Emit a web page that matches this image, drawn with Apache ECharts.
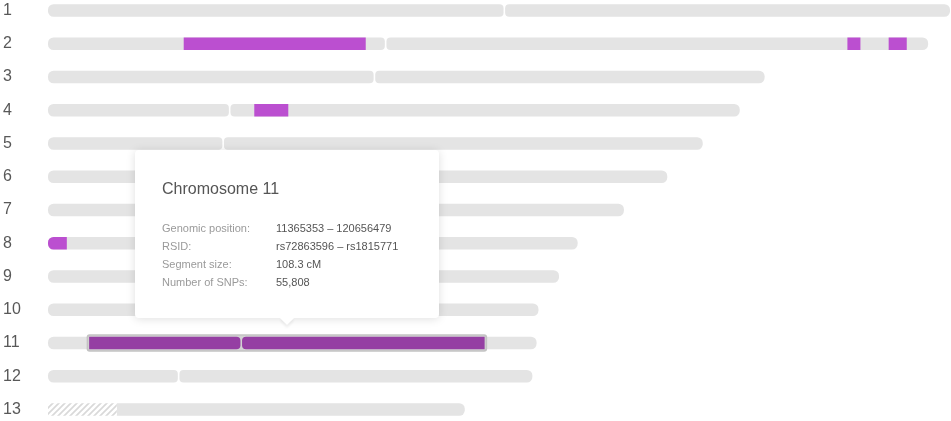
<!DOCTYPE html>
<html>
<head>
<meta charset="utf-8">
<script src="https://cdn.jsdelivr.net/npm/echarts@6/dist/echarts.min.js"></script>
<style>
html, body { margin: 0; padding: 0; background: #ffffff; }
#chart { width: 951px; height: 421px; }
</style>
</head>
<body>
<div id="chart"></div>
<script>
// ---------------- data ----------------
const chromosomes = ['1', '2', '3', '4', '5', '6', '7', '8', '9', '10', '11', '12', '13'];
const chromLengthsMb = [249.25, 243.20, 198.02, 191.15, 180.92, 171.12, 159.14, 146.36, 141.21, 135.53, 135.01, 133.85, 115.17];
const centromeresMb = [126.1, 93.3, 90.2, 50.2, 48.4, 60.0, 59.8, 45.4, 49.0, 40.2, 53.4, 36.1, 19.0];

// unmapped (hatched) regions
const unmappedChrom = ['13'];
const unmappedStartMb = [0];
const unmappedEndMb = [19.0];

// shared segments
const segChrom = ['2', '2', '2', '4', '8', '11'];
const segStartMb = [37.5, 220.9, 232.3, 57.0, 0, 11.365353];
const segEndMb = [87.8, 224.5, 237.3, 66.4, 5.2, 120.656479];
const segRsid = ['', '', '', '', '', 'rs72863596 \u2013 rs1815771'];
const segSizeCM = [null, null, null, null, null, 108.3];
const segSnps = [null, null, null, null, null, 55808];
const selectedSegment = 5;

// ---------------- styles ----------------
const BAR_H = 12.5;
const R_END = 5.5;
const R_CEN = 4;
const GAP = 1.6;
const GREY = '#e4e4e4';
const PURPLE = '#bb4fd0';
const PURPLE_SEL = '#953fa3';
const OUTLINE = '#c3c3c3';
const FONT = "'Liberation Sans', Arial, Helvetica, sans-serif";

// hatch pattern
const hatch = document.createElement('canvas');
hatch.width = 6; hatch.height = 6;
(function () {
  const c = hatch.getContext('2d');
  c.fillStyle = '#ffffff';
  c.fillRect(0, 0, 6, 6);
  c.strokeStyle = '#d9d9d9';
  c.lineWidth = 1.7;
  c.beginPath();
  c.moveTo(-1, 7); c.lineTo(7, -1);
  c.moveTo(-4, 4); c.lineTo(4, -4);
  c.moveTo(2, 10); c.lineTo(10, 2);
  c.stroke();
})();

function rowOf(name) { return chromosomes.indexOf(name); }

function isAcrocentric(row) {
  for (let i = 0; i < unmappedChrom.length; i++) {
    if (rowOf(unmappedChrom[i]) === row && unmappedStartMb[i] <= 0 && unmappedEndMb[i] >= centromeresMb[row] - 1e-6) return true;
  }
  return false;
}

function arms(api, row) {
  const len = chromLengthsMb[row], cen = centromeresMb[row];
  const x0 = api.coord([0, row])[0];
  const x1 = api.coord([len, row])[0];
  const xc = api.coord([cen, row])[0];
  if (isAcrocentric(row)) {
    return [{ a: cen, b: len, l: xc, r: x1, rl: 0, rr: R_END }];
  }
  return [
    { a: 0, b: cen, l: x0, r: xc - GAP / 2, rl: R_END, rr: R_CEN },
    { a: cen, b: len, l: xc + GAP / 2, r: x1, rl: R_CEN, rr: R_END }
  ];
}

function renderChrom(params, api) {
  const row = api.value(0);
  const yc = api.coord([0, row])[1];
  const y = yc - BAR_H / 2;
  const children = arms(api, row).map(function (a) {
    return {
      type: 'rect',
      shape: { x: a.l, y: y, width: a.r - a.l, height: BAR_H, r: [a.rl, a.rr, a.rr, a.rl] },
      style: { fill: GREY }
    };
  });
  return { type: 'group', children: children };
}

function renderUnmapped(params, api) {
  const row = api.value(0);
  const p0 = api.coord([api.value(1), row]);
  const p1 = api.coord([api.value(2), row]);
  return {
    type: 'rect',
    shape: { x: p0[0], y: p0[1] - BAR_H / 2, width: p1[0] - p0[0], height: BAR_H },
    style: { fill: { image: hatch, repeat: 'repeat' } }
  };
}

function renderSegment(params, api) {
  const row = api.value(0);
  const s = api.value(1), e = api.value(2);
  const sel = params.dataIndex === selectedSegment;
  const yc = api.coord([0, row])[1];
  const y = yc - BAR_H / 2;
  const children = [];
  const pieces = [];
  arms(api, row).forEach(function (a) {
    const s2 = Math.max(s, a.a), e2 = Math.min(e, a.b);
    if (s2 >= e2) return;
    const atL = s2 <= a.a + 1e-9, atR = e2 >= a.b - 1e-9;
    const l = atL ? a.l : api.coord([s2, row])[0];
    const r = atR ? a.r : api.coord([e2, row])[0];
    const rl = atL ? a.rl : 0, rr = atR ? a.rr : 0;
    pieces.push({ l: l, r: r, rl: rl, rr: rr });
  });
  if (!pieces.length) return null;
  if (sel) {
    const L = pieces[0].l, Rr = pieces[pieces.length - 1].r;
    children.push({
      type: 'rect',
      shape: { x: L - 2.5, y: y - 2.5, width: Rr - L + 5, height: BAR_H + 5, r: 3 },
      style: { fill: OUTLINE }
    });
    children.push({
      type: 'rect',
      shape: { x: L - 1, y: y - 1, width: Rr - L + 2, height: BAR_H + 2, r: 2 },
      style: { fill: '#d2d2d2' }
    });
  }
  pieces.forEach(function (p) {
    children.push({
      type: 'rect',
      shape: { x: p.l, y: y, width: p.r - p.l, height: BAR_H, r: [p.rl, p.rr, p.rr, p.rl] },
      style: { fill: sel ? PURPLE_SEL : PURPLE }
    });
  });
  return { type: 'group', children: children };
}

function fmtInt(v) { return String(v).replace(/\B(?=(\d{3})+(?!\d))/g, ','); }

function tooltipHtml(params) {
  const i = params.dataIndex;
  const row = rowOf(segChrom[i]);
  const rows = [];
  rows.push(['Genomic position:', Math.round(segStartMb[i] * 1e6) + ' \u2013 ' + Math.round(segEndMb[i] * 1e6)]);
  if (segRsid[i]) rows.push(['RSID:', segRsid[i]]);
  if (segSizeCM[i] != null) rows.push(['Segment size:', segSizeCM[i].toFixed(1) + ' cM']);
  if (segSnps[i] != null) rows.push(['Number of SNPs:', fmtInt(segSnps[i])]);
  let tr = '';
  rows.forEach(function (r) {
    tr += '<tr><td style="padding:0;width:114px;color:#9a9a9a">' + r[0] + '</td><td style="padding:0;color:#555">' + r[1] + '</td></tr>';
  });
  return '<div style="position:relative;width:304px;height:168px;box-sizing:border-box;padding:29px 27px 0 27px;font-family:' + FONT.replace(/'/g, '&quot;') + ';white-space:nowrap;text-align:left">' +
    '<div style="font-size:16px;line-height:20px;color:#555">Chromosome ' + chromosomes[row] + '</div>' +
    '<table style="margin-top:20px;border-collapse:collapse;border-spacing:0;font-size:11px;line-height:18px">' + tr + '</table>' +
    '<div style="position:absolute;left:50%;bottom:-5px;margin-left:-5px;width:10px;height:10px;background:#fff;transform:rotate(45deg);box-shadow:2px 2px 3px rgba(0,0,0,0.07)"></div>' +
    '</div>';
}

// ---------------- chart ----------------
const chromData = chromosomes.map(function (c, i) { return [i, 0, chromLengthsMb[i]]; });
const unmappedData = unmappedChrom.map(function (c, i) { return [rowOf(c), unmappedStartMb[i], unmappedEndMb[i]]; });
const segData = segChrom.map(function (c, i) { return [rowOf(c), segStartMb[i], segEndMb[i]]; });

const chart = echarts.init(document.getElementById('chart'), null, { renderer: 'canvas' });
chart.setOption({
  animation: false,
  grid: { left: 48, right: 1, top: 10.5, bottom: 11.5, containLabel: false },
  xAxis: {
    type: 'value', min: 0, max: Math.max.apply(null, chromLengthsMb), show: false,
    splitLine: { show: false }
  },
  yAxis: {
    type: 'category', data: chromosomes, inverse: true, boundaryGap: false,
    axisLine: { show: false }, axisTick: { show: false }, splitLine: { show: false },
    axisLabel: { align: 'left', margin: 45, fontSize: 16, color: '#585858', fontFamily: FONT, interval: 0, padding: [3, 0, 0, 0] }
  },
  tooltip: {
    trigger: 'item',
    alwaysShowContent: true,
    showDelay: 0,
    hideDelay: 0,
    transitionDuration: 0,
    padding: 0,
    borderWidth: 0,
    borderColor: '#ffffff',
    backgroundColor: '#ffffff',
    extraCssText: 'box-shadow:0 1px 10px rgba(0,0,0,0.13);border-radius:4px;',
    formatter: tooltipHtml,
    position: function (point, params, dom, rect, size) {
      const w = size.contentSize[0], h = size.contentSize[1];
      if (!rect) return [point[0] - w / 2, point[1] - h - 20];
      return [rect.x + rect.width / 2 - w / 2, rect.y - h - 16];
    }
  },
  series: [
    { type: 'custom', name: 'chromosomes', silent: true, tooltip: { show: false },
      renderItem: renderChrom, encode: { x: [1, 2], y: 0 }, data: chromData, z: 1, clip: false },
    { type: 'custom', name: 'unmapped', silent: true, tooltip: { show: false },
      renderItem: renderUnmapped, encode: { x: [1, 2], y: 0 }, data: unmappedData, z: 2, clip: false },
    { type: 'custom', name: 'segments', clip: false,
      renderItem: renderSegment, encode: { x: [1, 2], y: 0 }, data: segData, z: 3,
      emphasis: { disabled: true } }
  ]
});

function showSelected() {
  chart.dispatchAction({ type: 'showTip', seriesIndex: 2, dataIndex: selectedSegment });
}
showSelected();
chart.on('finished', function once() { chart.off('finished', once); showSelected(); });
</script>
</body>
</html>
